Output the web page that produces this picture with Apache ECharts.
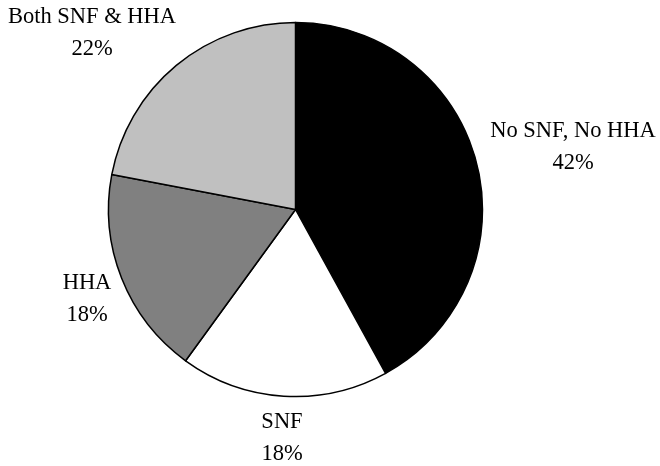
<!DOCTYPE html>
<html>
<head>
<meta charset="utf-8">
<script src="https://cdn.jsdelivr.net/npm/echarts@6/dist/echarts.min.js"></script>
<style>
  html, body { margin: 0; padding: 0; background: #fff; }
  #chart { width: 660px; height: 466px; }
</style>
</head>
<body>
<div id="chart"></div>
<script>
// Discharge groups and their shares (%)
const categories = ['No SNF, No HHA', 'SNF', 'HHA', 'Both SNF & HHA'];
const shares = [42, 18, 18, 22];
const sliceColors = ['#000000', '#ffffff', '#808080', '#c0c0c0'];

// Label anchor points (centre of each two-line label block)
const labelAnchors = [[573, 147], [282, 438], [87, 299], [92, 33]];

const chart = echarts.init(document.getElementById('chart'));

chart.setOption({
  animation: false,
  backgroundColor: '#ffffff',
  series: [{
    type: 'pie',
    center: [295.5, 209.5],
    radius: [0, 187],
    startAngle: 90,
    clockwise: true,
    avoidLabelOverlap: false,
    data: categories.map((name, i) => ({
      name,
      value: shares[i],
      itemStyle: { color: sliceColors[i] }
    })),
    itemStyle: { borderColor: '#000000', borderWidth: 1.5 },
    label: {
      show: true,
      position: 'outside',
      formatter: p => p.name + '\n' + p.value + '%',
      fontFamily: 'Liberation Serif',
      fontSize: 22.5,
      lineHeight: 32,
      color: '#000000',
      align: 'center'
    },
    labelLine: { show: false },
    labelLayout: params => ({
      x: labelAnchors[params.dataIndex][0],
      y: labelAnchors[params.dataIndex][1],
      align: 'center',
      verticalAlign: 'middle'
    }),
    emphasis: { disabled: true }
  }]
});
</script>
</body>
</html>
